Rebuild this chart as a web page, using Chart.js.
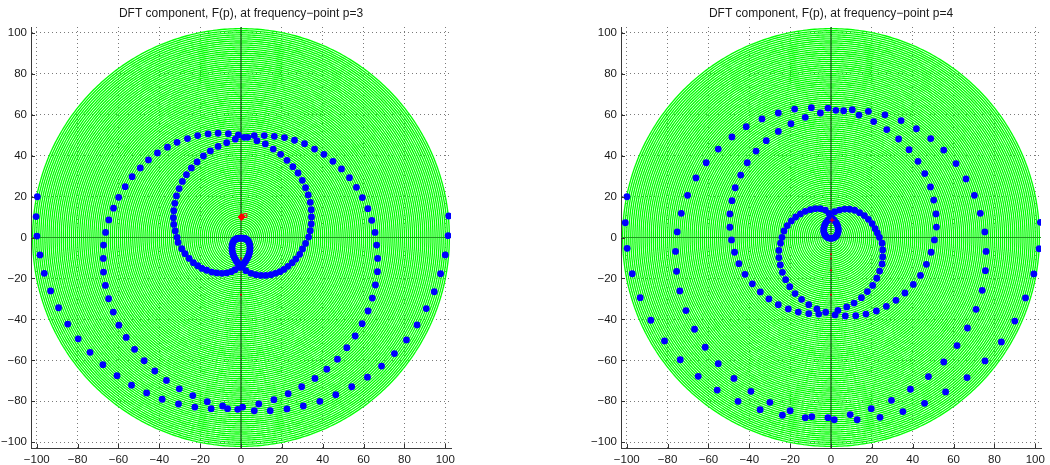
<!DOCTYPE html>
<html>
<head>
<meta charset="utf-8">
<script src="https://cdn.jsdelivr.net/npm/chart.js@4.4.1/dist/chart.umd.min.js"></script>
<style>
  html, body { margin: 0; padding: 0; background: #fff; width: 1050px; height: 465px; overflow: hidden; }
  .panel { position: absolute; top: 0; width: 460px; height: 465px; }
</style>
</head>
<body>
<div class="panel" style="left:0px"><canvas id="dft3" width="460" height="465"></canvas></div>
<div class="panel" style="left:590px"><canvas id="dft4" width="460" height="465"></canvas></div>
<script>
// ---- axis ticks and plot titles ----
const tickValues = [-100, -80, -60, -40, -20, 0, 20, 40, 60, 80, 100];
const axisLimit = 102.8;
const titles = {
  p3: 'DFT component, F(p), at frequency\u2212point p=3',
  p4: 'DFT component, F(p), at frequency\u2212point p=4'
};

// radii of the concentric reference rings
const ringRadii = [1,2,3,4,5,6,7,8,9,10,11,12,13,14,15,16,17,18,19,20,21,22,23,24,25,26,27,28,29,30,
  31,32,33,34,35,36,37,38,39,40,41,42,43,44,45,46,47,48,49,50,51,52,53,54,55,56,57,58,59,60,
  61,62,63,64,65,66,67,68,69,70,71,72,73,74,75,76,77,78,79,80,81,82,83,84,85,86,87,88,89,90,
  91,92,93,94,95,96,97,98,99,100,101,102];

// ---- p = 3 : wrapped samples (real, imaginary) ----
const p3X = [
  -99.7,-100.3,-99.9,-98.4,-96.3,-93.2,-89.3,-84.8,-79.7,-73.9,-67.6,-60.7,-53.6,-46.2,-38.6,-30.6,-22.6,-14.6,-6.6,0.8,
  6.5,14.3,22.5,30.5,38.6,46.4,54.2,61.9,68.8,75.1,81.0,86.2,90.7,94.6,97.7,100.0,101.4,101.7,
  -66.3,-64.7,-62.4,-59.9,-56.7,-53.3,-49.3,-45.3,-40.9,-36.0,-31.3,-26.2,-21.2,-16.1,-11.2,-6.2,-1.3,1.6,3.3,6.5,
  11.4,16.3,21.3,26.2,31.1,36.0,40.6,45.0,49.2,53.1,56.5,59.4,62.1,64.0,65.6,
  -67.3,-67.4,-67.3,-66.4,-64.8,-62.5,-59.8,-56.2,-52.1,-47.4,-42.2,-36.5,-30.2,-23.6,-16.5,-9.0,-1.6,8.7,16.1,23.1,
  29.7,36.2,42.0,47.2,51.8,55.9,59.3,62.2,64.3,65.8,66.8,66.9,66.4,
  -31.3,-32.2,-32.9,-33.1,-32.9,-32.4,-31.6,-30.3,-28.7,-26.7,-24.3,-21.5,-18.4,-15.0,-11.2,-7.0,-2.8,7.8,11.9,15.8,
  19.4,22.5,25.4,27.9,30.0,31.6,32.9,33.9,34.4,34.5,34.4,33.9,33.1,
  -30.8,-29.0,-27.4,-25.4,-23.3,-21.2,-19.1,-16.8,-14.3,-11.9,-9.4,-7.0,-4.7,-2.9,-1.1,2.4,4.9,7.3,9.8,12.2,
  14.7,16.9,19.1,21.0,23.0,25.1,26.9,28.7,30.1,31.6,
  0,0.6,1.2,1.8,2.4,2.9,3.4,3.8,4.1,4.3,4.4,4.4,4.3,4.0,3.7,3.2,2.6,2.0,1.3,0.6,
  0,-0.6,-1.3,-2.0,-2.6,-3.2,-3.7,-4.0,-4.3,-4.4,-4.4,-4.3,-4.1,-3.8,-3.4,-2.9,-2.4,-1.8,-1.2,-0.6
];
const p3Y = [
  19.9,10.2,0.7,-8.5,-17.5,-26.1,-34.3,-42.3,-49.5,-56.1,-62.1,-67.5,-72.1,-75.9,-79.0,-81.3,-82.8,-83.6,-83.6,-82.8,
  -84.6,-84.6,-83.7,-82.3,-80.0,-76.8,-72.9,-68.2,-62.8,-56.7,-50.0,-42.7,-34.7,-26.5,-17.7,-8.5,0.9,10.5,
  2.5,8.6,14.3,19.6,24.8,29.7,34.0,37.9,41.3,44.1,46.5,48.3,49.8,50.6,50.9,50.7,50.1,48.9,48.9,49.8,
  49.8,49.4,48.8,47.5,45.8,43.2,40.6,37.2,33.5,29.2,24.5,19.5,14.1,8.4,2.5,
  -3.7,-10.2,-16.9,-23.4,-29.9,-36.4,-42.8,-48.8,-54.6,-60.2,-65.2,-69.8,-73.9,-77.2,-80.2,-82.3,-83.9,-81.3,-79.2,-76.3,
  -72.9,-68.8,-64.3,-59.4,-53.8,-48.1,-42.1,-35.9,-29.6,-23.2,-16.7,-10.2,-3.7,
  0.1,3.2,6.4,9.7,13.1,16.7,20.3,23.9,27.4,30.7,34.0,36.9,39.8,42.3,44.5,46.3,48.0,47.3,45.7,43.2,
  40.6,37.7,34.6,31.5,27.9,24.3,20.8,17.2,13.6,10.0,6.6,3.3,0.2,
  -2.4,-5.5,-7.9,-10.2,-12.3,-13.8,-15.1,-16.0,-16.9,-17.3,-17.5,-17.3,-16.7,-15.7,-14.4,-16.2,-17.5,-18.2,-18.5,-18.5,
  -18.2,-17.5,-16.7,-15.6,-14.1,-12.3,-10.5,-8.2,-5.6,-2.9,
  -14.5,-13.8,-13.0,-12.2,-11.3,-10.4,-9.5,-8.5,-7.6,-6.6,-5.6,-4.6,-3.6,-2.7,-1.9,-1.3,-0.8,-0.5,-0.4,-0.3,
  -0.3,-0.3,-0.4,-0.5,-0.8,-1.3,-1.9,-2.7,-3.6,-4.6,-5.6,-6.6,-7.6,-8.5,-9.5,-10.4,-11.3,-12.2,-13.0,-13.8
];
// F(3) and partial-sum markers
const p3CentreX = [0.3];
const p3CentreY = [10.0];
const p3OpenX = [2.0];
const p3OpenY = [10.7];
const p3TraceX = [0, 0];
const p3TraceY = [-10.3, -27.9];

// ---- p = 4 : wrapped samples (real, imaginary) ----
const p4X = [
  -99.9,-100.7,-99.8,-97.3,-93.4,-88.2,-81.5,-73.8,-65.0,-55.7,-45.5,-34.7,-23.8,-12.6,-1.5,
  1.6,12.8,24.0,35.2,45.8,56.1,
  66.6,75.4,83.4,90.0,95.2,99.3,101.9,102.5,
  -76.1,-75.6,-74.0,-71.0,-66.8,-61.6,-55.2,-47.5,-39.2,-29.9,-20.0,-9.4,
  9.4,19.7,29.6,38.9,47.7,55.2,61.7,66.8,71.0,74.0,75.6,75.9,
  -75.3,-73.3,-70.2,-66.1,-61.1,-55.2,-48.5,-41.5,-33.8,-25.8,-17.8,-9.6,-1.5,2.4,10.4,18.3,26.4,34.3,41.8,48.8,
  55.2,61.2,66.1,70.2,73.1,75.3,
  -49.5,-49.5,-48.5,-46.9,-44.2,-41.0,-36.7,-31.7,-25.8,-19.6,-12.6,-5.2,6.2,13.7,20.9,27.3,33.1,38.2,42.6,45.9,
  48.7,50.3,51.4,51.6,
  -48.7,-47.2,-45.1,-42.1,-38.5,-34.6,-30.4,-25.8,-20.9,-16.0,-10.9,-6.0,
  50.6,49.0,46.7,43.8,40.3,36.2,31.8,27.1,22.2,17.1,12.1,7.0,2.0,
  -24.0,-23.0,-21.4,-19.4,-17.3,-15.0,-12.6,-10.1,-7.7,-5.2,-2.8,-1.0,
  1.8,4.2,6.7,9.1,11.6,14.0,16.3,18.3,20.1,21.6,22.7,23.7,
  -24.7,-25.5,-25.5,-24.8,-23.8,-22.2,-20.2,-17.6,-14.4,-10.9,-6.9,-2.6,
  25.0,25.3,25.3,25.0,23.8,22.4,20.4,17.8,14.9,11.3,7.7,3.4,
  0,0.8,1.6,2.4,3.0,3.4,3.6,3.5,3.1,2.4,1.3,0,-1.3,-2.4,-3.1,-3.5,-3.6,-3.4,-3.0,-2.4,-1.6,-0.8
];
const p4Y = [
  19.9,7.2,-5.3,-17.7,-29.4,-40.4,-50.5,-59.7,-67.8,-74.5,-80.0,-84.1,-86.8,-88.0,-88.0,
  -89.0,-89.0,-87.8,-85.0,-81.0,-75.4,
  -68.4,-60.3,-51.0,-40.8,-29.5,-17.8,-5.5,7.4,
  -6.8,-16.5,-26.1,-35.7,-44.8,-53.6,-61.6,-68.8,-75.1,-80.5,-84.6,-87.5,
  -86.5,-83.6,-79.5,-74.1,-67.9,-60.8,-52.8,-44.2,-35.1,-25.8,-16.2,-6.8,
  2.7,11.8,20.6,29.1,36.5,43.2,49.1,54.1,57.9,60.8,62.7,63.4,63.2,62.1,62.4,61.6,59.9,57.1,53.1,48.3,
  42.7,36.1,28.6,20.6,11.8,2.7,
  5.0,11.5,18.0,24.3,30.5,36.5,42.2,47.3,51.8,55.6,58.7,60.8,61.9,59.8,56.6,52.7,48.1,42.9,37.2,31.2,
  24.7,18.3,11.5,5.1,
  -1.2,-7.2,-12.8,-18.0,-22.6,-26.6,-30.0,-32.8,-34.9,-36.4,-37.2,-37.4,
  -1.2,-7.2,-13.1,-18.5,-22.9,-27.1,-30.7,-33.6,-35.9,-37.4,-38.2,-38.3,-37.8,
  0.1,3.2,5.8,8.1,10.0,11.5,12.8,13.6,14.1,14.1,13.4,11.8,
  12.6,13.4,13.9,13.8,13.3,12.1,10.7,8.9,6.8,4.3,2.2,0.1,
  -2.8,-6.3,-9.8,-13.4,-17.0,-20.6,-24.0,-27.4,-30.2,-32.8,-34.9,-36.5,
  -2.8,-6.1,-9.5,-12.9,-16.4,-19.9,-23.4,-26.4,-29.4,-32.0,-33.9,-35.6,
  9.8,9.2,8.4,7.4,6.3,5.1,3.9,2.7,1.5,0.5,-0.2,-0.45,-0.2,0.5,1.5,2.7,3.9,5.1,6.3,7.4,8.4,9.2
];
const p4CentreX = [0.5];
const p4CentreY = [8.5];
const p4TraceX = [0, 0, 0, 0];
const p4TraceY = [-8.2, -10.2, -16.0, -27.9];

// ---- drawing helpers ----
const FONT = '"Liberation Sans", Arial, Helvetica, sans-serif';
const RING_SEGMENTS = 240;

const zip = (xs, ys) => xs.map((x, i) => ({ x: x, y: ys[i] }));
const fmt = v => (v < 0 ? '\u2212' + Math.abs(v) : String(v));

function ringDataset(r) {
  const pts = [];
  for (let k = 0; k <= RING_SEGMENTS; k++) {
    const a = 2 * Math.PI * k / RING_SEGMENTS;
    pts.push({ x: r * Math.cos(a), y: r * Math.sin(a) });
  }
  // a tiny tension keeps the full path renderer (no per-column point merging)
  return {
    data: pts, showLine: true, borderColor: '#00ff00', borderWidth: 1.35,
    pointRadius: 0, fill: false, tension: 0.0001, order: 4
  };
}

// short inward tick marks along the left and bottom axis lines
const inwardTicks = {
  id: 'inwardTicks',
  afterDraw(chart) {
    const { ctx, chartArea: a, scales } = chart;
    ctx.save();
    ctx.strokeStyle = '#333';
    ctx.lineWidth = 1;
    ctx.beginPath();
    tickValues.forEach(v => {
      const px = Math.round(scales.x.getPixelForValue(v)) + 0.5;
      ctx.moveTo(px, a.bottom);
      ctx.lineTo(px, a.bottom - 4);
      const py = Math.round(scales.y.getPixelForValue(v)) + 0.5;
      ctx.moveTo(a.left, py);
      ctx.lineTo(a.left + 4, py);
    });
    ctx.stroke();
    ctx.restore();
  }
};

function axis(pos) {
  return {
    type: 'linear', position: pos, min: -axisLimit, max: axisLimit,
    afterBuildTicks: s => { s.ticks = tickValues.map(v => ({ value: v })); },
    afterFit: s => { if (pos === 'left') s.width = 31; else s.height = 17; },
    grid: { color: '#7a7a7a', lineWidth: 1, drawTicks: false },
    border: { display: true, color: '#3a3a3a', width: 1, dash: [1, 3] },
    ticks: {
      padding: pos === 'left' ? 4 : 5, color: '#1a1a1a',
      font: { family: FONT, size: 11.5 }, callback: v => fmt(v)
    }
  };
}

function makePanel(canvasId, title, blueX, blueY, markers) {
  const datasets = [];
  markers.forEach(m => datasets.push(Object.assign({ order: 0 }, m)));
  datasets.push({
    data: zip(blueX, blueY), pointRadius: 3.4, pointBackgroundColor: '#0000ff',
    pointBorderWidth: 0, borderWidth: 0, order: 1
  });
  // horizontal and vertical axis lines through the origin
  datasets.push({
    data: [{ x: -axisLimit, y: 0 }, { x: axisLimit, y: 0 }], showLine: true,
    borderColor: '#1f9a1f', borderWidth: 1.2, pointRadius: 0, order: 2
  });
  datasets.push({
    data: [{ x: 0, y: -axisLimit }, { x: 0, y: axisLimit }], showLine: true,
    borderColor: '#154f15', borderWidth: 1.2, pointRadius: 0, order: 2
  });
  ringRadii.forEach(r => datasets.push(ringDataset(r)));

  new Chart(document.getElementById(canvasId), {
    type: 'scatter',
    data: { datasets: datasets },
    plugins: [inwardTicks],
    options: {
      responsive: false, animation: false, devicePixelRatio: 1,
      layout: { padding: { right: 9, top: 0, bottom: 0, left: 0 } },
      plugins: {
        legend: { display: false }, tooltip: { enabled: false },
        title: {
          display: true, text: title, fullSize: false, color: '#1a1a1a',
          font: { family: FONT, size: 12, weight: 'normal' },
          padding: { top: 6.5, bottom: 6.1 }
        }
      },
      scales: { x: axis('bottom'), y: axis('left') }
    }
  });
}

makePanel('dft3', titles.p3, p3X, p3Y, [
  { data: zip(p3CentreX, p3CentreY), pointStyle: 'rectRot', pointRadius: 3.5,
    pointBackgroundColor: '#ff0000', pointBorderColor: '#ff0000', pointBorderWidth: 1 },
  { data: zip(p3OpenX, p3OpenY), pointStyle: 'rect', pointRadius: 2.5,
    pointBackgroundColor: 'rgba(0,0,0,0)', pointBorderColor: '#ff0000', pointBorderWidth: 1 },
  { data: zip(p3TraceX, p3TraceY), pointRadius: 1, pointBackgroundColor: '#e00000', pointBorderWidth: 0 }
]);

makePanel('dft4', titles.p4, p4X, p4Y, [
  { data: zip(p4CentreX, p4CentreY), pointStyle: 'cross', pointRadius: 2.5,
    pointBorderColor: '#ff0000', pointBorderWidth: 1 },
  { data: zip(p4TraceX, p4TraceY), pointRadius: 1, pointBackgroundColor: '#e00000', pointBorderWidth: 0 }
]);
</script>
</body>
</html>
